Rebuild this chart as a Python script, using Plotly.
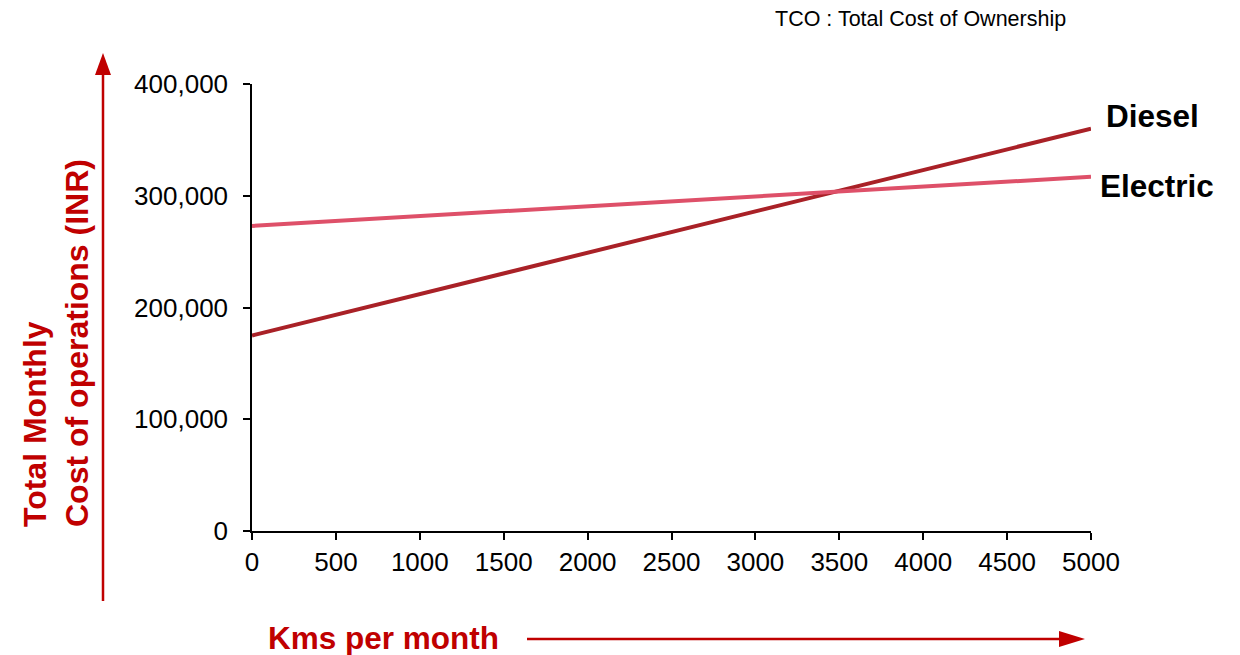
import plotly.graph_objects as go

# Monthly distance driven (km) and total monthly cost of operations (INR)
kms = [0, 5000]
diesel_cost = [175000, 360000]
electric_cost = [273000, 317000]

x_ticks = [0, 500, 1000, 1500, 2000, 2500, 3000, 3500, 4000, 4500, 5000]
y_ticks = [0, 100000, 200000, 300000, 400000]

DIESEL = "#A92127"
ELECTRIC = "#DE5069"
ARROW = "#C00000"
FONT = "Arial, Liberation Sans, sans-serif"

W, H = 1240, 655
L, R, T, B = 252, 1091, 84, 531  # plot area in pixels


def px(X):
    return (X - L) / (R - L)


def py(Y):
    return (B - Y) / (B - T)


fig = go.Figure()
fig.add_trace(go.Scatter(x=kms, y=diesel_cost, mode="lines", name="Diesel",
                         line=dict(color=DIESEL, width=4), cliponaxis=False))
fig.add_trace(go.Scatter(x=kms, y=electric_cost, mode="lines", name="Electric",
                         line=dict(color=ELECTRIC, width=4), cliponaxis=False))

# series labels at the right end of each line
fig.add_annotation(x=kms[-1], y=diesel_cost[-1], text="<b>Diesel</b>", showarrow=False,
                   xanchor="left", yanchor="bottom", xshift=13, yshift=-7,
                   font=dict(family=FONT, size=31.5, color="black"))
fig.add_annotation(x=kms[-1], y=electric_cost[-1], text="<b>Electric</b>", showarrow=False,
                   xanchor="left", yanchor="middle", xshift=7, yshift=-9,
                   font=dict(family=FONT, size=31.5, color="black"))

# footnote
fig.add_annotation(x=px(1068), y=py(19), xref="paper", yref="paper",
                   text="TCO : Total Cost of Ownership", showarrow=False,
                   xanchor="right", yanchor="middle",
                   font=dict(family=FONT, size=21.5, color="black"))

# axis titles
fig.add_annotation(x=px(56), y=py(529), xref="paper", yref="paper",
                   text="<b>Total Monthly<br>Cost of operations (INR)</b>",
                   showarrow=False, textangle=-90, align="left",
                   xanchor="center", yanchor="bottom",
                   font=dict(family=FONT, size=32, color=ARROW))
fig.add_annotation(x=px(266), y=py(638), xref="paper", yref="paper",
                   text="<b>Kms per month</b>", showarrow=False,
                   xanchor="left", yanchor="middle",
                   font=dict(family=FONT, size=31.5, color=ARROW))

# red direction arrows beside the axes
shapes = [
    dict(type="line", xref="paper", yref="paper", x0=px(103), x1=px(103),
         y0=py(601), y1=py(72), line=dict(color=ARROW, width=2.5)),
    dict(type="path", xref="paper", yref="paper",
         path=f"M {px(95)} {py(75)} L {px(111)} {py(75)} L {px(103)} {py(53)} Z",
         fillcolor=ARROW, line=dict(color=ARROW, width=0)),
    dict(type="line", xref="paper", yref="paper", x0=px(527), x1=px(1062),
         y0=py(639), y1=py(639), line=dict(color=ARROW, width=2.5)),
    dict(type="path", xref="paper", yref="paper",
         path=f"M {px(1059)} {py(631)} L {px(1059)} {py(647)} L {px(1085)} {py(639)} Z",
         fillcolor=ARROW, line=dict(color=ARROW, width=0)),
]

fig.update_layout(
    width=W, height=H,
    margin=dict(l=L, r=W - R, t=T, b=H - B),
    paper_bgcolor="white", plot_bgcolor="white",
    showlegend=False,
    shapes=shapes,
    font=dict(family=FONT, size=26, color="black"),
    xaxis=dict(range=[0, 5000], tickvals=x_ticks, ticktext=[str(v) for v in x_ticks],
               showgrid=False, zeroline=False, showline=True, linecolor="black",
               linewidth=1.5, ticks="outside", ticklen=7, tickwidth=1.5,
               tickcolor="black", tickfont=dict(size=26)),
    yaxis=dict(range=[0, 400000], tickvals=y_ticks,
               ticktext=[f"{v:,}" for v in y_ticks],
               showgrid=False, zeroline=False, showline=True, linecolor="black",
               linewidth=1.5, ticks="outside", ticklen=7, tickwidth=1.5,
               tickcolor="black", tickfont=dict(size=26), ticklabelstandoff=10),
)

fig.write_html("out.html")
